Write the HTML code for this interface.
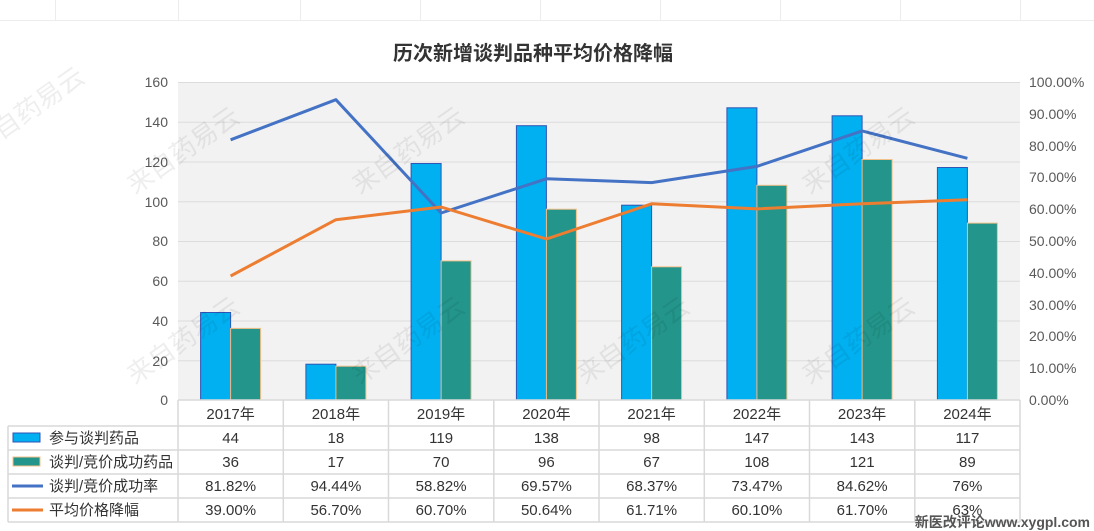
<!DOCTYPE html>
<html><head><meta charset="utf-8"><style>
body{margin:0;background:#fff}
svg{display:block;font-family:"Liberation Sans","Noto Sans CJK SC",sans-serif}
</style></head><body>
<svg width="1094" height="531" viewBox="0 0 1094 531" xmlns="http://www.w3.org/2000/svg">
<rect width="1094" height="531" fill="#fff"/>
<g stroke="#ececec" stroke-width="1">
<line x1="0" y1="20.5" x2="1094" y2="20.5"/>
<line x1="55.5" y1="0" x2="55.5" y2="20"/><line x1="178.5" y1="0" x2="178.5" y2="20"/><line x1="300.5" y1="0" x2="300.5" y2="20"/><line x1="420.5" y1="0" x2="420.5" y2="20"/><line x1="540.5" y1="0" x2="540.5" y2="20"/><line x1="660.5" y1="0" x2="660.5" y2="20"/><line x1="780.5" y1="0" x2="780.5" y2="20"/><line x1="900.5" y1="0" x2="900.5" y2="20"/><line x1="1020.5" y1="0" x2="1020.5" y2="20"/>
</g>
<text x="533" y="60" text-anchor="middle" font-size="20" font-weight="bold" fill="#333">历次新增谈判品种平均价格降幅</text>
<rect x="178" y="82" width="842" height="318" fill="#f2f2f2"/>
<g stroke="#dcdcdc" stroke-width="1">
<line x1="178" y1="82.5" x2="1020" y2="82.5"/><line x1="178" y1="122.3" x2="1020" y2="122.3"/><line x1="178" y1="162" x2="1020" y2="162"/><line x1="178" y1="201.8" x2="1020" y2="201.8"/><line x1="178" y1="241.5" x2="1020" y2="241.5"/><line x1="178" y1="281.3" x2="1020" y2="281.3"/><line x1="178" y1="321" x2="1020" y2="321"/><line x1="178" y1="360.8" x2="1020" y2="360.8"/>
</g>
<g font-size="14" fill="#595959" text-anchor="end">
<text x="168" y="87">160</text><text x="168" y="127">140</text><text x="168" y="167">120</text><text x="168" y="207">100</text><text x="168" y="246">80</text><text x="168" y="286">60</text><text x="168" y="326">40</text><text x="168" y="366">20</text><text x="168" y="405">0</text>
</g>
<g font-size="14" fill="#595959">
<text x="1029" y="87">100.00%</text><text x="1029" y="119">90.00%</text><text x="1029" y="151">80.00%</text><text x="1029" y="182">70.00%</text><text x="1029" y="214">60.00%</text><text x="1029" y="246">50.00%</text><text x="1029" y="278">40.00%</text><text x="1029" y="310">30.00%</text><text x="1029" y="341">20.00%</text><text x="1029" y="373">10.00%</text><text x="1029" y="405">0.00%</text>
</g>
<g fill="#00b0f0" stroke="#2f55b5" stroke-width="1">
<rect x="200.6" y="312.5" width="30" height="87.5"/><rect x="305.9" y="364.2" width="30" height="35.8"/><rect x="411.1" y="163.5" width="30" height="236.5"/><rect x="516.4" y="125.7" width="30" height="274.3"/><rect x="621.6" y="205.2" width="30" height="194.8"/><rect x="726.9" y="107.8" width="30" height="292.2"/><rect x="832.1" y="115.8" width="30" height="284.2"/><rect x="937.4" y="167.5" width="30" height="232.5"/>
</g>
<g fill="#23958a" stroke="#f4c08a" stroke-width="1">
<rect x="230.6" y="328.4" width="30" height="71.6"/><rect x="335.9" y="366.2" width="30" height="33.8"/><rect x="441.1" y="260.9" width="30" height="139.1"/><rect x="546.4" y="209.2" width="30" height="190.8"/><rect x="651.6" y="266.8" width="30" height="133.2"/><rect x="756.9" y="185.3" width="30" height="214.7"/><rect x="862.1" y="159.5" width="30" height="240.5"/><rect x="967.4" y="223.1" width="30" height="176.9"/>
</g>
<polyline fill="none" stroke="#4472c4" stroke-width="3" stroke-linejoin="round" points="230.6,139.8 335.9,99.7 441.1,213 546.4,178.8 651.6,182.6 756.9,166.4 862.1,130.9 967.4,158.3"/>
<polyline fill="none" stroke="#ed7d31" stroke-width="3" stroke-linejoin="round" points="230.6,276 335.9,219.7 441.1,207 546.4,239 651.6,203.8 756.9,208.9 862.1,203.8 967.4,199.7"/>
<g stroke="#d9d9d9" stroke-width="1.5" fill="none">
<line x1="178" y1="400" x2="1020" y2="400"/>
<line x1="8" y1="426" x2="1020" y2="426"/><line x1="8" y1="450" x2="1020" y2="450"/><line x1="8" y1="474" x2="1020" y2="474"/><line x1="8" y1="498" x2="1020" y2="498"/><line x1="8" y1="522" x2="1020" y2="522"/>
<line x1="8" y1="426" x2="8" y2="522"/>
<line x1="178" y1="400" x2="178" y2="522"/><line x1="283.3" y1="400" x2="283.3" y2="522"/><line x1="388.5" y1="400" x2="388.5" y2="522"/><line x1="493.8" y1="400" x2="493.8" y2="522"/><line x1="599" y1="400" x2="599" y2="522"/><line x1="704.3" y1="400" x2="704.3" y2="522"/><line x1="809.5" y1="400" x2="809.5" y2="522"/><line x1="914.8" y1="400" x2="914.8" y2="522"/><line x1="1020" y1="400" x2="1020" y2="522"/>
</g>
<rect x="13" y="433" width="27" height="9" fill="#00b0f0" stroke="#2f55b5"/>
<rect x="13" y="457" width="27" height="9" fill="#23958a" stroke="#f4c08a"/>
<line x1="12" y1="486" x2="43" y2="486" stroke="#4472c4" stroke-width="3"/>
<line x1="12" y1="510" x2="43" y2="510" stroke="#ed7d31" stroke-width="3"/>
<g font-size="15" fill="#333">
<text x="49" y="443">参与谈判药品</text><text x="49" y="467">谈判/竞价成功药品</text><text x="49" y="491">谈判/竞价成功率</text><text x="49" y="515">平均价格降幅</text>
</g>
<g font-size="15" fill="#333" text-anchor="middle">
<text x="230.6" y="419">2017年</text><text x="335.9" y="419">2018年</text><text x="441.1" y="419">2019年</text><text x="546.4" y="419">2020年</text><text x="651.6" y="419">2021年</text><text x="756.9" y="419">2022年</text><text x="862.1" y="419">2023年</text><text x="967.4" y="419">2024年</text>
<text x="230.6" y="443">44</text><text x="335.9" y="443">18</text><text x="441.1" y="443">119</text><text x="546.4" y="443">138</text><text x="651.6" y="443">98</text><text x="756.9" y="443">147</text><text x="862.1" y="443">143</text><text x="967.4" y="443">117</text>
<text x="230.6" y="467">36</text><text x="335.9" y="467">17</text><text x="441.1" y="467">70</text><text x="546.4" y="467">96</text><text x="651.6" y="467">67</text><text x="756.9" y="467">108</text><text x="862.1" y="467">121</text><text x="967.4" y="467">89</text>
<text x="230.6" y="491">81.82%</text><text x="335.9" y="491">94.44%</text><text x="441.1" y="491">58.82%</text><text x="546.4" y="491">69.57%</text><text x="651.6" y="491">68.37%</text><text x="756.9" y="491">73.47%</text><text x="862.1" y="491">84.62%</text><text x="967.4" y="491">76%</text>
<text x="230.6" y="515">39.00%</text><text x="335.9" y="515">56.70%</text><text x="441.1" y="515">60.70%</text><text x="546.4" y="515">50.64%</text><text x="651.6" y="515">61.71%</text><text x="756.9" y="515">60.10%</text><text x="862.1" y="515">61.70%</text><text x="967.4" y="515">63%</text>
</g>
<g font-size="26" fill="#000" opacity="0.07">
<text transform="translate(135,195) rotate(-35)">来自药易云</text>
<text transform="translate(360,195) rotate(-35)">来自药易云</text>
<text transform="translate(810,195) rotate(-35)">来自药易云</text>
<text transform="translate(135,385) rotate(-35)">来自药易云</text>
<text transform="translate(360,385) rotate(-35)">来自药易云</text>
<text transform="translate(585,385) rotate(-35)">来自药易云</text>
<text transform="translate(810,385) rotate(-35)">来自药易云</text>
<text transform="translate(-20,155) rotate(-35)">来自药易云</text>
</g>
<text x="1090" y="527" text-anchor="end" font-size="14" font-weight="bold" fill="#555">新医改评论www.xygpl.com</text>
</svg>
</body></html>
